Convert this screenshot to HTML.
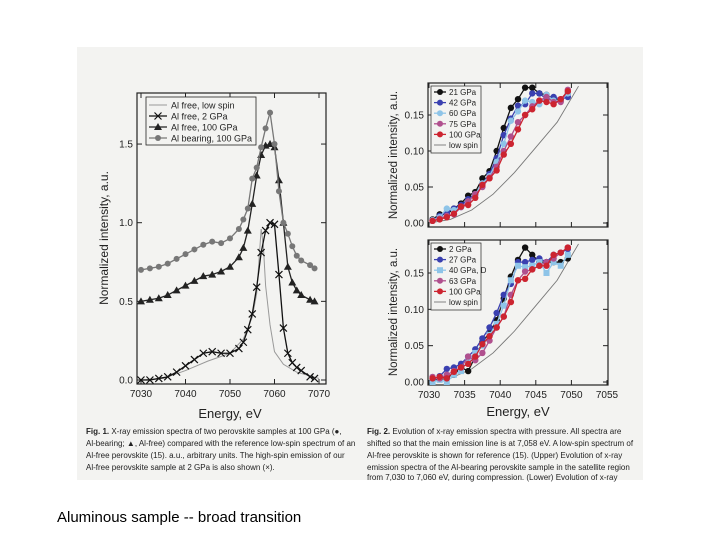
<!DOCTYPE html>
<html><head><meta charset="utf-8"><style>
body{margin:0;background:#fff;width:720px;height:540px;overflow:hidden;font-family:"Liberation Sans",sans-serif}
svg{position:absolute;left:0;top:0}
</style></head><body>
<svg id="s" width="720" height="540">
<rect x="77" y="47" width="566" height="433" fill="#f3f3f1"/>
<g font-size="8" fill="#222">
<text x="86" y="434"><tspan font-weight="bold">Fig. 1.</tspan>  X-ray emission spectra of two perovskite samples at 100 GPa (●,</text>
<text x="86" y="446">Al-bearing; ▲, Al-free) compared with the reference low-spin spectrum of an</text>
<text x="86" y="458">Al-free perovskite (15). a.u., arbitrary units. The high-spin emission of our</text>
<text x="86" y="470">Al-free perovskite sample at 2 GPa is also shown (×).</text>
</g>
<g font-size="8" fill="#222">
<text x="367" y="434"><tspan font-weight="bold">Fig. 2.</tspan>  Evolution of x-ray emission spectra with pressure. All spectra are</text>
<text x="367" y="446">shifted so that the main emission line is at 7,058 eV. A low-spin spectrum of</text>
<text x="367" y="458">Al-free perovskite is shown for reference (15). (Upper) Evolution of x-ray</text>
<text x="367" y="470">emission spectra of the Al-bearing perovskite sample in the satellite region</text>
<text x="367" y="480">from 7,030 to 7,060 eV, during compression. (Lower) Evolution of x-ray</text>
</g>
<text x="57" y="522" font-size="15" fill="#000">Aluminous sample -- broad transition</text>
</svg>
<script>
// Fig 1 data
const f1X=[7030,7032,7034,7036,7038,7040,7042,7044,7046,7048,7050,7052,7053,7054,7055,7056,7057,7058,7059,7060,7061,7062,7063,7064,7065,7066,7068,7069];
const f1Bearing=[0.70,0.71,0.72,0.74,0.77,0.80,0.83,0.86,0.88,0.87,0.90,0.96,1.02,1.09,1.28,1.35,1.48,1.60,1.70,1.50,1.20,1.00,0.93,0.85,0.79,0.76,0.73,0.71];
const f1Free100=[0.50,0.51,0.52,0.54,0.57,0.60,0.63,0.66,0.67,0.69,0.72,0.78,0.84,0.95,1.12,1.30,1.43,1.49,1.50,1.48,1.27,1.00,0.72,0.62,0.57,0.54,0.51,0.50];
const f1Free2=[0.00,0.00,0.01,0.02,0.05,0.09,0.13,0.17,0.18,0.17,0.17,0.20,0.24,0.32,0.42,0.59,0.81,0.95,1.00,0.99,0.67,0.33,0.17,0.11,0.08,0.06,0.02,0.01];
const f1LowX=[7030,7035,7040,7045,7050,7053,7055,7056,7057,7057.5,7058,7059,7060,7062,7065,7070];
const f1LowY=[0,0.01,0.06,0.12,0.17,0.26,0.40,0.55,0.96,0.85,0.60,0.35,0.18,0.10,0.05,0.01];
const f1XTicks=[7030,7040,7050,7060,7070];
const f1YTicks=[0.0,0.5,1.0,1.5];
// Fig 2 data
const f2X=[7030.5,7031.5,7032.5,7033.5,7034.5,7035.5,7036.5,7037.5,7038.5,7039.5,7040.5,7041.5,7042.5,7043.5,7044.5,7045.5,7046.5,7047.5,7048.5,7049.5];
const upLabels=["21 GPa","42 GPa","60 GPa","75 GPa","100 GPa"];
const up21=[.005,.012,.012,.02,.027,.038,.043,.062,.072,.1,.132,.16,.172,.188,.188,.18,.178,.172,.17,.18];
const up42=[.004,.01,.015,.02,.025,.033,.04,.055,.068,.09,.122,.145,.163,.165,.18,.18,.172,.175,.172,.175];
const up60=[.004,.008,.02,.018,.022,.03,.04,.055,.065,.085,.11,.142,.155,.17,.168,.165,.178,.17,.17,.18];
const up75=[.003,.006,.01,.012,.022,.03,.04,.05,.063,.078,.1,.12,.14,.15,.162,.17,.175,.168,.168,.185];
const up100=[.003,.005,.008,.013,.023,.025,.035,.053,.062,.073,.095,.11,.13,.15,.158,.17,.168,.165,.172,.183];
const loLabels=["2 GPa","27 GPa","40 GPa, D","63 GPa","100 GPa"];
const lo2=[.002,.004,.007,.01,.02,.015,.035,.055,.068,.085,.115,.145,.168,.185,.175,.165,.165,.165,.165,.17];
const lo27=[.003,.008,.018,.02,.025,.035,.045,.06,.075,.095,.12,.135,.165,.165,.168,.17,.165,.175,.178,.183];
const lo40=[.0,.003,.0,.01,.015,.03,.04,.05,.065,.08,.105,.14,.16,.158,.16,.165,.15,.165,.16,.175];
const lo63=[.007,.005,.01,.015,.02,.035,.03,.04,.057,.075,.09,.12,.14,.152,.155,.16,.165,.17,.178,.185];
const lo100=[.005,.007,.005,.014,.02,.025,.035,.052,.063,.075,.09,.11,.14,.142,.155,.16,.16,.175,.178,.185];
const lowSpinX=[7030,7033,7036,7039,7042,7045,7048,7051];
const lowSpinY=[0,0.005,0.018,0.04,0.07,0.105,0.14,0.19];
const f2XTicks=[7030,7035,7040,7045,7050,7055];
const f2YTicks=[0.00,0.05,0.10,0.15];
const colors=["#111","#3a40b0","#8ec4e8","#b0508e","#cc2430"];

const NS="http://www.w3.org/2000/svg",S=document.getElementById('s');
function el(t,a,p){const e=document.createElementNS(NS,t);for(const k in a)e.setAttribute(k,a[k]);(p||S).appendChild(e);return e;}
function panel(name,bx,by,bw,bh,xs,ys,xt,yt,yfmt,showX){
  const g=el('g',{});
  
  
  el('rect',{x:bx,y:by,width:bw,height:bh,fill:'none',stroke:'#222','stroke-width':1.2},g);
  xt.forEach(v=>{const x=xs(v);el('line',{x1:x,x2:x,y1:by+bh,y2:by+bh-5,stroke:'#222'},g);el('line',{x1:x,x2:x,y1:by,y2:by+5,stroke:'#222'},g);
    if(showX){const t=el('text',{x:x,y:by+bh+13,'font-size':10,'text-anchor':'middle',fill:'#222'},g);t.textContent=v;}});
  yt.forEach(v=>{const y=ys(v);el('line',{x1:bx,x2:bx+5,y1:y,y2:y,stroke:'#222'},g);el('line',{x1:bx+bw,x2:bx+bw-5,y1:y,y2:y,stroke:'#222'},g);
    const t=el('text',{x:bx-4,y:y+3.5,'font-size':10,'text-anchor':'end',fill:'#222'},g);t.textContent=v.toFixed(yfmt);});
  return g;
}
function line(g,xs,ys,X,Y,col,w){return el('polyline',{points:X.map((x,i)=>xs(x)+','+ys(Y[i])).join(' '),fill:'none',stroke:col,'stroke-width':w},g);}
function dots(g,xs,ys,X,Y,col,kind,r){X.forEach((x,i)=>{const cx=xs(x),cy=ys(Y[i]);let m;
  if(kind==='c')m=el('circle',{cx:cx,cy:cy,r:r,fill:col},g);
  else if(kind==='t')m=el('polygon',{points:`${cx},${cy-4} ${cx-4},${cy+3} ${cx+4},${cy+3}`,fill:col},g);
  else if(kind==='x')m=el('path',{d:`M${cx-3.5} ${cy-3.5}L${cx+3.5} ${cy+3.5}M${cx-3.5} ${cy+3.5}L${cx+3.5} ${cy-3.5}`,stroke:col,'stroke-width':1.2},g);
  else m=el('rect',{x:cx-3,y:cy-3,width:6,height:6,fill:col},g);
  });}
function txt(g,x,y,s,size,extra){const t=el('text',Object.assign({x:x,y:y,'font-size':size,fill:'#222'},extra||{}),g);t.textContent=s;return t;}

// Fig 1
const x1=v=>141+(v-7030)*4.45, y1=v=>380-v*157.3;
const g1=panel('fig1-chart',137,93,189,291,x1,y1,f1XTicks,f1YTicks,1,true);
line(g1,x1,y1,f1LowX,f1LowY,'#999',1);
line(g1,x1,y1,f1X,f1Free2,'#111',1.3);dots(g1,x1,y1,f1X,f1Free2,'#111','x');
line(g1,x1,y1,f1X,f1Free100,'#222',1.3);dots(g1,x1,y1,f1X,f1Free100,'#222','t');
line(g1,x1,y1,f1X,f1Bearing,'#777',1.3);dots(g1,x1,y1,f1X,f1Bearing,'#777','c',3);
const l1=el('g',{},g1);
el('rect',{x:146,y:97,width:110,height:48,fill:'#f3f3f1',stroke:'#222','stroke-width':0.8},l1);
[['Al free, low spin','#999',null],['Al free, 2 GPa','#111','x'],['Al free, 100 GPa','#222','t'],['Al bearing, 100 GPa','#777','c']].forEach((e,i)=>{const y=105+i*11;
  el('line',{x1:149,x2:167,y1:y,y2:y,stroke:e[1],'stroke-width':e[2]?1.3:1},l1);if(e[2])dots(l1,v=>v,v=>v,[158],[y],e[1],e[2],3);
  txt(l1,171,y+3.5,e[0],9);});
const yl1=txt(g1,0,0,'Normalized intensity, a.u.',12,{transform:'translate(108,238) rotate(-90)','text-anchor':'middle'});
txt(g1,230,418,'Energy, eV',13,{'text-anchor':'middle'});

// Fig 2
const x2=v=>429+(v-7030)*7.12;
function fig2(name,top,y0,series,labels){
  const ys=v=>y0-v*(y0-(top===83?115:273))/0.15;
  const g=panel(name,428,top,180,top===83?144:145,x2,ys,f2XTicks,f2YTicks,2,top!==83);
  line(g,x2,ys,lowSpinX,lowSpinY,'#777',0.9);
  series.forEach((s,i)=>{line(g,x2,ys,f2X,s,colors[i],1.3);dots(g,x2,ys,f2X,s,colors[i],(top!==83&&i===2)?'s':'c',3.2);});
  const lg=el('g',{},g);
  el('rect',{x:431,y:top+3,width:50,height:67,fill:'#f3f3f1',stroke:'#222','stroke-width':0.7},lg);
  labels.concat(['low spin']).forEach((lb,i)=>{const y=top+9+i*10.6;
    el('line',{x1:434,x2:446,y1:y,y2:y,stroke:i<5?colors[i]:'#777','stroke-width':i<5?1.3:0.9},lg);
    if(i<5)dots(lg,v=>v,v=>v,[440],[y],colors[i],(top!==83&&i===2)?'s':'c',3);
    txt(lg,449,y+3,lb,8);});
  txt(g,0,0,'Normalized intensity, a.u.',11.5,{transform:`translate(397,${top+72}) rotate(-90)`,'text-anchor':'middle'});
}
fig2('fig2-upper-chart',83,223,[up21,up42,up60,up75,up100],upLabels);
fig2('fig2-lower-chart',240,382,[lo2,lo27,lo40,lo63,lo100],loLabels);
txt(S,518,416,'Energy, eV',13,{'text-anchor':'middle'});
</script>
</body></html>
